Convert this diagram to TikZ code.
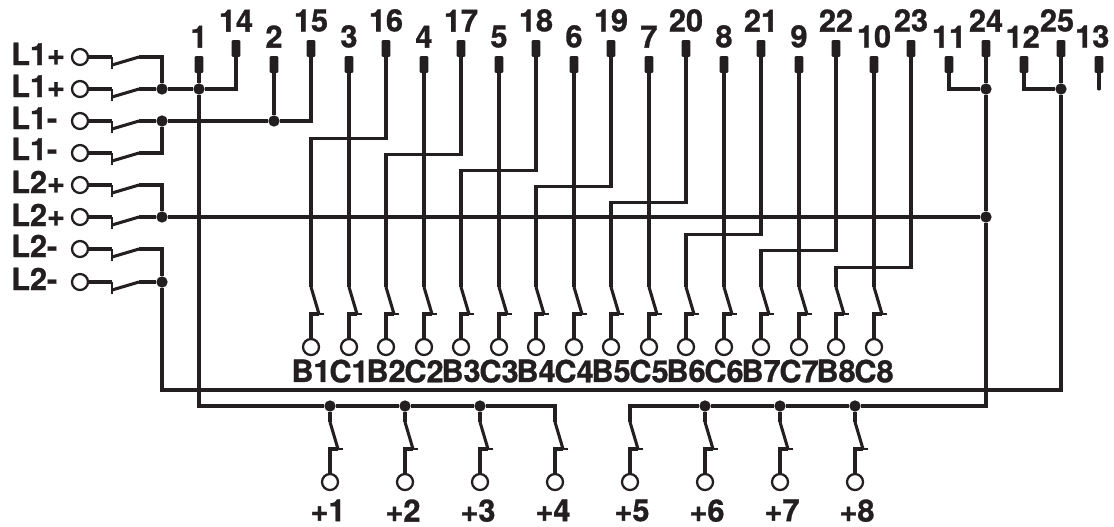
\documentclass[tikz,border=0pt]{standalone}
\usepackage{fontspec}
\setmainfont[BoldFeatures={FakeBold=1}]{TeX Gyre Heros}
\definecolor{ink}{HTML}{231F20}
\tikzset{
	wire/.style={draw=ink,line width=2.3pt},
	stub/.style={draw=ink,line width=1.1pt},
	term/.style={fill=ink,minimum width=6.5pt,minimum height=12.5pt,inner sep=0pt,rounded corners=0.8pt},
	port/.style={circle,draw=ink,line width=1.7pt,fill=white,minimum size=12pt,inner sep=0pt},
	joint/.style={circle,fill=ink,minimum size=8.5pt,inner sep=0pt},
	num/.style={font=\bfseries\fontsize{23}{24}\selectfont,text=ink,inner sep=0pt},
	toplab/.style={num,label distance=6pt},
	sublab/.style={num,label distance=2.4pt},
	pluslab/.style={num,label distance=6pt,xshift=-1.5pt},
	pluslabr/.style={num,label distance=6pt,xshift=1.5pt}
}
\newcommand{\hsw}[1]{%
	\path (#1) ++(59,0) coordinate (#1o) ++(-27,8) coordinate (#1k);
	\draw[wire] (#1.east) -- (#1k |- #1);
	\draw[wire,line width=1.6pt] (#1k |- #1) -- ++(0,12);
	\draw[wire] (#1k) -- (#1o);
}
\newcommand{\vsw}[1]{%
	\path (#1) ++(0,-60) coordinate (#1t) ++(8,27) coordinate (#1k);
	\draw[wire] (#1.north) -- (#1 |- #1k) -- (#1k);
	\draw[stub] (#1k) -- ++(5,0);
	\draw[wire] (#1t) -- (#1k);
}
\begin{document}
\begin{tikzpicture}[x=0.75pt,y=0.75pt,yscale=-1,xscale=1]
	\useasboundingbox (0,0) rectangle (1114,526);

	\node[term,label={[toplab]above:1}] (t1) at (199,64.5) {};
	\node[term,label={[toplab]above:14}] (t14) at (236,48.5) {};
	\node[term,label={[toplab]above:2}] (t2) at (274,64.5) {};
	\node[term,label={[toplab]above:15}] (t15) at (311,48.5) {};
	\node[term,label={[toplab]above:3}] (t3) at (349,64.5) {};
	\node[term,label={[toplab]above:16}] (t16) at (386,48.5) {};
	\node[term,label={[toplab]above:4}] (t4) at (424,64.5) {};
	\node[term,label={[toplab]above:17}] (t17) at (461,48.5) {};
	\node[term,label={[toplab]above:5}] (t5) at (499,64.5) {};
	\node[term,label={[toplab]above:18}] (t18) at (536,48.5) {};
	\node[term,label={[toplab]above:6}] (t6) at (574,64.5) {};
	\node[term,label={[toplab]above:19}] (t19) at (611,48.5) {};
	\node[term,label={[toplab]above:7}] (t7) at (649,64.5) {};
	\node[term,label={[toplab]above:20}] (t20) at (686,48.5) {};
	\node[term,label={[toplab]above:8}] (t8) at (724,64.5) {};
	\node[term,label={[toplab]above:21}] (t21) at (761,48.5) {};
	\node[term,label={[toplab]above:9}] (t9) at (799,64.5) {};
	\node[term,label={[toplab]above:22}] (t22) at (836,48.5) {};
	\node[term,label={[toplab]above:10}] (t10) at (874,64.5) {};
	\node[term,label={[toplab]above:23}] (t23) at (911,48.5) {};
	\node[term,label={[toplab]above:11}] (t11) at (949,64.5) {};
	\node[term,label={[toplab]above:24}] (t24) at (986,48.5) {};
	\node[term,label={[toplab,xshift=-1pt]above:12}] (t12) at (1024,64.5) {};
	\node[term,label={[toplab,xshift=-3pt]above:25}] (t25) at (1061,48.5) {};
	\node[term,label={[toplab,xshift=-5pt]above:13}] (t13) at (1099,64.5) {};
	\coordinate (e13) at (1099,89);

	\node[port] (l1) at (80,57) {};
	\node[port] (l2) at (80,89) {};
	\node[port] (l3) at (80,121) {};
	\node[port] (l4) at (80,153) {};
	\node[port] (l5) at (80,185) {};
	\node[port] (l6) at (80,217) {};
	\node[port] (l7) at (80,249) {};
	\node[port] (l8) at (80,282) {};
	\node[num,anchor=base west] (nl1) at (11,65) {L1+};
	\node[num,anchor=base west] (nl2) at (11,97) {L1+};
	\node[num,anchor=base west] (nl3) at (11,129) {L1-};
	\node[num,anchor=base west] (nl4) at (11,160) {L1-};
	\node[num,anchor=base west] (nl5) at (11,193) {L2+};
	\node[num,anchor=base west] (nl6) at (11,226) {L2+};
	\node[num,anchor=base west] (nl7) at (11,257) {L2-};
	\node[num,anchor=base west] (nl8) at (11,290) {L2-};

	\node[port,label={[sublab]below:B1}] (b1) at (311,347) {};
	\node[port,label={[sublab]below:C1}] (c1) at (349,347) {};
	\node[port,label={[sublab]below:B2}] (b2) at (386,347) {};
	\node[port,label={[sublab]below:C2}] (c2) at (424,347) {};
	\node[port,label={[sublab]below:B3}] (b3) at (461,347) {};
	\node[port,label={[sublab]below:C3}] (c3) at (499,347) {};
	\node[port,label={[sublab]below:B4}] (b4) at (536,347) {};
	\node[port,label={[sublab]below:C4}] (c4) at (574,347) {};
	\node[port,label={[sublab]below:B5}] (b5) at (611,347) {};
	\node[port,label={[sublab]below:C5}] (c5) at (649,347) {};
	\node[port,label={[sublab]below:B6}] (b6) at (686,347) {};
	\node[port,label={[sublab]below:C6}] (c6) at (724,347) {};
	\node[port,label={[sublab]below:B7}] (b7) at (761,347) {};
	\node[port,label={[sublab]below:C7}] (c7) at (799,347) {};
	\node[port,label={[sublab]below:B8}] (b8) at (836,347) {};
	\node[port,label={[sublab]below:C8}] (c8) at (874,347) {};

	\node[port,label={[pluslab]below:+1}] (p1) at (330,482) {};
	\node[port,label={[pluslab]below:+2}] (p2) at (405,482) {};
	\node[port,label={[pluslab]below:+3}] (p3) at (480,482) {};
	\node[port,label={[pluslab]below:+4}] (p4) at (555,482) {};
	\node[port,label={[pluslabr]below:+5}] (p5) at (630,482) {};
	\node[port,label={[pluslabr]below:+6}] (p6) at (705,482) {};
	\node[port,label={[pluslabr]below:+7}] (p7) at (780,482) {};
	\node[port,label={[pluslabr]below:+8}] (p8) at (855,482) {};

	\node[joint] (ja) at (162,89) {};
	\node[joint] (jb) at (199,89) {};
	\node[joint] (jc) at (162,121) {};
	\node[joint] (jd) at (274,121) {};
	\node[joint] (je) at (162,217) {};
	\node[joint] (jf) at (986,217) {};
	\node[joint] (jg) at (162,282) {};
	\node[joint] (jh) at (986,89) {};
	\node[joint] (ji) at (1061,89) {};
	\node[joint] (k1) at (330,406) {};
	\node[joint] (k2) at (405,406) {};
	\node[joint] (k3) at (480,406) {};
	\node[joint] (k6) at (705,406) {};
	\node[joint] (k7) at (780,406) {};
	\node[joint] (k8) at (855,406) {};

	\hsw{l1} \hsw{l2} \hsw{l3} \hsw{l4} \hsw{l5} \hsw{l6} \hsw{l7} \hsw{l8}
	\vsw{b1} \vsw{c1} \vsw{b2} \vsw{c2} \vsw{b3} \vsw{c3} \vsw{b4} \vsw{c4}
	\vsw{b5} \vsw{c5} \vsw{b6} \vsw{c6} \vsw{b7} \vsw{c7} \vsw{b8} \vsw{c8}
	\vsw{p1} \vsw{p2} \vsw{p3} \vsw{p4} \vsw{p5} \vsw{p6} \vsw{p7} \vsw{p8}

	\draw[wire] (l1o) -| (ja);
	\draw[wire] (l2o) -- (ja);
	\draw[wire] (ja) -- (jb);
	\draw[wire] (jb) -| (t14.south);
	\draw[wire] (l3o) -- (jc);
	\draw[wire] (l4o) -| (jc);
	\draw[wire] (jc) -- (jd);
	\draw[wire] (jd) -| (t15.south);
	\draw[wire] (t2.south) -- (jd);
	\draw[wire] (l5o) -| (je);
	\draw[wire] (l6o) -- (je);
	\draw[wire] (je) -- (jf);
	\draw[wire] (l7o) -| (jg);
	\draw[wire] (l8o) -- (jg);

	\draw[wire] (t16.south) -- ++(0,81.5) -| (b1t);
	\draw[wire] (t17.south) -- ++(0,97.5) -| (b2t);
	\draw[wire] (t18.south) -- ++(0,113.5) -| (b3t);
	\draw[wire] (t19.south) -- ++(0,129.5) -| (b4t);
	\draw[wire] (t20.south) -- ++(0,145.5) -| (b5t);
	\draw[wire] (t21.south) -- ++(0,177.5) -| (b6t);
	\draw[wire] (t22.south) -- ++(0,193.5) -| (b7t);
	\draw[wire] (t23.south) -- ++(0,210) -| (b8t);
	\draw[wire] (t3.south) -- (c1t);
	\draw[wire] (t4.south) -- (c2t);
	\draw[wire] (t5.south) -- (c3t);
	\draw[wire] (t6.south) -- (c4t);
	\draw[wire] (t7.south) -- (c5t);
	\draw[wire] (t8.south) -- (c6t);
	\draw[wire] (t9.south) -- (c7t);
	\draw[wire] (t10.south) -- (c8t);

	\draw[wire] (t11.south) |- (jh);
	\draw[wire] (t12.south) |- (ji);
	\draw[wire,line cap=round] (t13.south) -- (e13);
	\draw[wire] (t1.south) -- (jb);
	\draw[wire] (jb) |- (k1);
	\draw[wire] (k1) -- (k2);
	\draw[wire] (k2) -- (k3);
	\draw[wire] (k3) -| (p4t);
	\draw[wire] (t24.south) -- (jh);
	\draw[wire] (jh) -- (jf);
	\draw[wire] (jf) |- (k8);
	\draw[wire] (k8) -- (k7);
	\draw[wire] (k7) -- (k6);
	\draw[wire] (k6) -| (p5t);
	\draw[wire] (k1) -- (p1t);
	\draw[wire] (k2) -- (p2t);
	\draw[wire] (k3) -- (p3t);
	\draw[wire] (k6) -- (p6t);
	\draw[wire] (k7) -- (p7t);
	\draw[wire] (k8) -- (p8t);
	\draw[wire] (t25.south) -- (ji);
	\draw[wire] (jg) -- ++(0,108) -| (ji);
\end{tikzpicture}
\end{document}
